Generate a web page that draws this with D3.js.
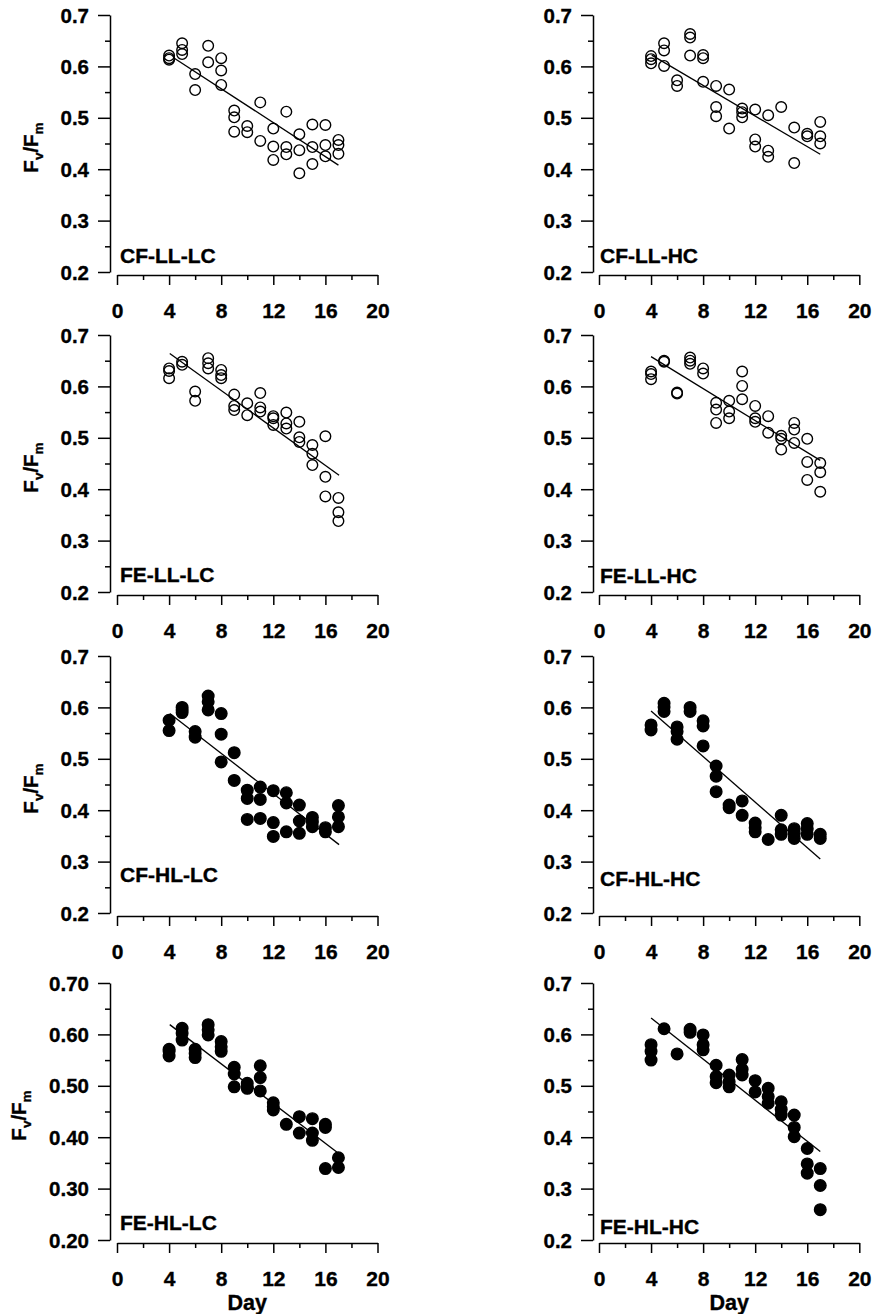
<!DOCTYPE html>
<html>
<head>
<meta charset="utf-8">
<script src="https://cdn.jsdelivr.net/npm/d3@7"></script>
<style>
  html, body { margin: 0; padding: 0; background: #fff; }
  svg { display: block; }
</style>
</head>
<body>
<script>
// ---------------- DATA ----------------
const panelNames = ["CF-LL-LC", "CF-LL-HC", "FE-LL-LC", "FE-LL-HC",
                    "CF-HL-LC", "CF-HL-HC", "FE-HL-LC", "FE-HL-HC"];
const panelFilled = [false, false, false, false, true, true, true, true];

const xTicks = [0, 4, 8, 12, 16, 20];
const xMinorTicks = [2, 6, 10, 14, 18];
const yTicks = [0.2, 0.3, 0.4, 0.5, 0.6, 0.7];
const yMinorTicks = [0.25, 0.35, 0.45, 0.55, 0.65];
const xLabel = "Day";

// [day, Fv/Fm]
const cfLlLc = [[4,0.621],[4,0.616],[4,0.613],[5,0.645],[5,0.632],[5,0.624],[6,0.585],[6,0.554],
  [7,0.640],[7,0.608],[8,0.616],[8,0.592],[8,0.564],[9,0.514],[9,0.501],[9,0.473],[10,0.484],[10,0.472],
  [11,0.530],[11,0.455],[12,0.479],[12,0.444],[12,0.418],[13,0.512],[13,0.443],[13,0.429],
  [14,0.468],[14,0.437],[14,0.392],[15,0.487],[15,0.443],[15,0.410],[16,0.486],[16,0.447],[16,0.425],
  [17,0.457],[17,0.447],[17,0.430]];
const cfLlHc = [[4,0.620],[4,0.614],[4,0.606],[5,0.645],[5,0.631],[5,0.601],[6,0.573],[6,0.562],
  [7,0.663],[7,0.656],[7,0.621],[8,0.622],[8,0.616],[8,0.570],[9,0.562],[9,0.521],[9,0.503],
  [10,0.555],[10,0.479],[11,0.518],[11,0.511],[11,0.501],[12,0.516],[12,0.458],[12,0.444],
  [13,0.505],[13,0.436],[13,0.424],[14,0.521],[15,0.481],[15,0.412],[16,0.469],[16,0.464],
  [17,0.492],[17,0.464],[17,0.450]];
const feLlLc = [[4,0.635],[4,0.630],[4,0.616],[5,0.648],[5,0.642],[6,0.590],[6,0.572],
  [7,0.655],[7,0.645],[7,0.635],[8,0.632],[8,0.622],[8,0.616],[9,0.584],[9,0.562],[9,0.554],
  [10,0.567],[10,0.544],[11,0.587],[11,0.559],[11,0.551],[12,0.542],[12,0.538],[12,0.525],
  [13,0.549],[13,0.528],[13,0.518],[14,0.531],[14,0.501],[14,0.492],[15,0.486],[15,0.469],[15,0.447],
  [16,0.503],[16,0.424],[16,0.386],[17,0.383],[17,0.355],[17,0.338]];
const feLlHc = [[4,0.629],[4,0.624],[4,0.614],[5,0.650],[5,0.648],[6,0.588],[6,0.586],
  [7,0.656],[7,0.650],[7,0.644],[8,0.635],[8,0.625],[9,0.568],[9,0.555],[9,0.529],
  [10,0.572],[10,0.551],[10,0.538],[11,0.629],[11,0.601],[11,0.575],[12,0.562],[12,0.538],[12,0.531],
  [13,0.542],[13,0.510],[14,0.504],[14,0.498],[14,0.477],[15,0.529],[15,0.516],[15,0.490],
  [16,0.498],[16,0.453],[16,0.418],[17,0.451],[17,0.433],[17,0.395]];
const cfHlLc = [[4,0.575],[4,0.555],[5,0.600],[5,0.595],[5,0.590],[6,0.553],[6,0.542],
  [7,0.622],[7,0.611],[7,0.595],[8,0.588],[8,0.548],[8,0.494],[9,0.512],[9,0.458],
  [10,0.439],[10,0.423],[10,0.382],[11,0.445],[11,0.421],[11,0.384],[12,0.438],[12,0.376],[12,0.349],
  [13,0.434],[13,0.414],[13,0.358],[14,0.410],[14,0.379],[14,0.355],[15,0.386],[15,0.377],[15,0.368],
  [16,0.366],[16,0.358],[17,0.409],[17,0.387],[17,0.368]];
const cfHlHc = [[4,0.566],[4,0.556],[5,0.608],[5,0.601],[5,0.592],[6,0.562],[6,0.553],[6,0.538],
  [7,0.600],[7,0.592],[8,0.574],[8,0.564],[8,0.525],[9,0.486],[9,0.466],[9,0.436],
  [10,0.410],[10,0.405],[11,0.418],[11,0.390],[12,0.375],[12,0.366],[12,0.358],[13,0.343],
  [14,0.390],[14,0.362],[14,0.353],[15,0.364],[15,0.355],[15,0.345],[16,0.374],[16,0.364],[16,0.353],
  [17,0.353],[17,0.345]];
const feHlLc = [[4,0.571],[4,0.567],[4,0.558],[5,0.612],[5,0.602],[5,0.589],[6,0.571],[6,0.563],[6,0.555],
  [7,0.619],[7,0.609],[7,0.599],[8,0.586],[8,0.576],[8,0.567],[9,0.536],[9,0.523],[9,0.498],
  [10,0.505],[10,0.498],[10,0.495],[11,0.539],[11,0.516],[11,0.490],[12,0.467],[12,0.459],[12,0.453],
  [13,0.425],[14,0.440],[14,0.408],[15,0.436],[15,0.408],[15,0.394],[16,0.425],[16,0.419],[16,0.339],
  [17,0.360],[17,0.341]];
const feHlHc = [[4,0.580],[4,0.567],[4,0.550],[5,0.611],[6,0.562],[7,0.610],[7,0.604],
  [8,0.599],[8,0.580],[8,0.570],[9,0.540],[9,0.518],[9,0.506],[10,0.521],[10,0.508],[10,0.498],
  [11,0.551],[11,0.532],[11,0.521],[12,0.510],[12,0.488],[13,0.495],[13,0.479],[13,0.466],
  [14,0.469],[14,0.454],[14,0.443],[15,0.443],[15,0.419],[15,0.401],[16,0.378],[16,0.348],[16,0.330],
  [17,0.339],[17,0.306],[17,0.259]];

const panelData = [cfLlLc, cfLlHc, feLlLc, feLlHc, cfHlLc, cfHlHc, feHlLc, feHlHc];

// regression lines: [dayStart, valueStart, dayEnd, valueEnd]
const fitLines = [
  [4.4, 0.616, 17.0, 0.408],
  [4.05, 0.622, 17.0, 0.429],
  [4.05, 0.664, 17.05, 0.427],
  [4.0, 0.658, 17.0, 0.456],
  [4.05, 0.588, 17.05, 0.333],
  [4.0, 0.593, 17.0, 0.305],
  [4.05, 0.619, 17.1, 0.367],
  [4.0, 0.632, 17.0, 0.372]
];

// ---------------- LAYOUT ----------------
const W = 872, H = 1314;
const FONT = "Arial, 'Liberation Sans', Helvetica, sans-serif";
const colLayout = [
  { axisX: 110, xRange: [117, 377.5], labelX: 120 },
  { axisX: 593, xRange: [599, 859.3], labelX: 600 }
];
const rowTops = [15, 335, 656, 983];
const plotH = 257;
const labelLift = [9, 9, 10, 9, 31, 27, 10, 6];

const svg = d3.select("body").append("svg")
  .attr("width", W).attr("height", H)
  .style("font-family", FONT);

function styleAxis(sel) {
  sel.selectAll(".domain").attr("stroke", "#000").attr("stroke-width", 1.5);
  sel.selectAll(".tick line").attr("stroke", "#000").attr("stroke-width", 1.5);
  sel.attr("font-family", FONT);
}
function boldText(sel, size) {
  sel.attr("font-size", size).attr("font-weight", "bold").attr("fill", "#000")
    .attr("stroke", "#000").attr("stroke-width", 0.35);
}

panelData.forEach((pts, i) => {
  const col = i % 2, row = Math.floor(i / 2);
  const L = colLayout[col];
  const top = rowTops[row], bottom = top + plotH;
  const x = d3.scaleLinear().domain([0, 20]).range(L.xRange);
  const y = d3.scaleLinear().domain([0.2, 0.7]).range([bottom, top]);
  const g = svg.append("g");
  const fmt = (row === 3 && col === 0) ? d3.format(".2f") : d3.format(".1f");

  // y axis minor
  const yMin = g.append("g").attr("transform", `translate(${L.axisX},0)`)
    .call(d3.axisLeft(y).tickValues(yMinorTicks).tickSize(5).tickFormat(""));
  yMin.select(".domain").remove();
  styleAxis(yMin);
  // y axis major
  const yMaj = g.append("g").attr("transform", `translate(${L.axisX},0)`)
    .call(d3.axisLeft(y).tickValues(yTicks).tickSize(12).tickSizeOuter(0).tickPadding(9).tickFormat(fmt));
  styleAxis(yMaj);
  boldText(yMaj.selectAll("text"), 20.5);
  yMaj.selectAll("text").attr("dy", "0.35em");

  // x axis
  const xAxisY = bottom + 3;
  const xMin = g.append("g").attr("transform", `translate(0,${xAxisY})`)
    .call(d3.axisBottom(x).tickValues(xMinorTicks).tickSize(5).tickFormat(""));
  xMin.select(".domain").remove();
  styleAxis(xMin);
  const xMaj = g.append("g").attr("transform", `translate(0,${xAxisY})`)
    .call(d3.axisBottom(x).tickValues(xTicks).tickSize(10).tickSizeOuter(0).tickPadding(18).tickFormat(d3.format("d")));
  styleAxis(xMaj);
  boldText(xMaj.selectAll("text"), 21);

  // regression line
  const f = fitLines[i];
  g.append("line")
    .attr("x1", x(f[0])).attr("y1", y(f[1]))
    .attr("x2", x(f[2])).attr("y2", y(f[3]))
    .attr("stroke", "#000").attr("stroke-width", 1.3);

  // points
  g.append("g").selectAll("circle").data(pts).join("circle")
    .attr("cx", d => x(d[0])).attr("cy", d => y(d[1]))
    .attr("r", panelFilled[i] ? 5.8 : 5.3)
    .attr("fill", panelFilled[i] ? "#000" : "none")
    .attr("stroke", "#000").attr("stroke-width", 1.4);

  // panel label
  boldText(g.append("text")
    .attr("x", L.labelX).attr("y", bottom - labelLift[i])
    .text(panelNames[i]), 21);

  // y label on left column
  if (col === 0) {
    const cx = row === 3 ? 26 : 38;
    const cy = (top + bottom) / 2 + 4;
    const t = g.append("text")
      .attr("transform", `translate(${cx},${cy}) rotate(-90)`)
      .attr("text-anchor", "middle");
    boldText(t, 20.5);
    t.append("tspan").text("F");
    t.append("tspan").attr("font-size", 13.5).attr("dy", 5).text("v");
    t.append("tspan").attr("dy", -5).text("/F");
    t.append("tspan").attr("font-size", 13.5).attr("dy", 5).text("m");
  }

  // x label on bottom row
  if (row === 3) {
    boldText(g.append("text")
      .attr("x", x(10)).attr("y", 1310)
      .attr("text-anchor", "middle")
      .text(xLabel), 21.5);
  }
});
</script>
</body>
</html>
